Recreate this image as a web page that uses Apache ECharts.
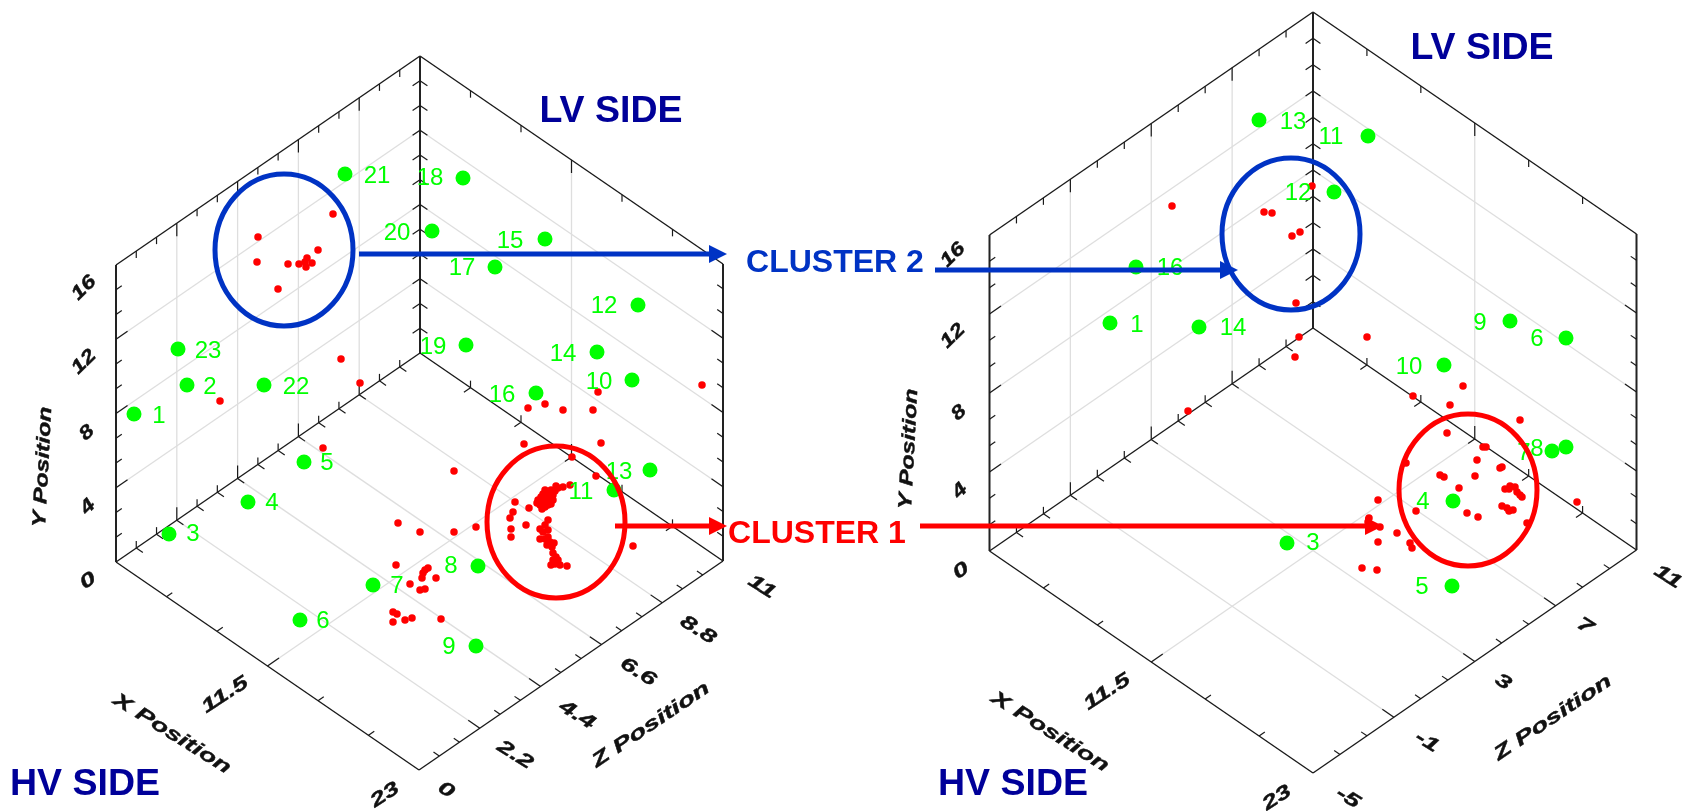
<!DOCTYPE html>
<html>
<head>
<meta charset="utf-8">
<style>
  html, body { margin: 0; background: #fff; }
  #chart { width: 1682px; height: 811px; }
</style>
<script src="https://cdn.jsdelivr.net/npm/echarts@6/dist/echarts.min.js"></script>
</head>
<body>
<div id="chart"></div>
<script>
// points, in picture units (the hidden axes run 0-1682 and 0-811)
const leftSensors = [[345,174],[178,349],[187,385],[264,385],[134,414],[463,178],[432,231],[545,239],[495,267],[638,305],[466,345],[597,352],[632,380],[536,393],[304,462],[248,502],[169,534],[373,585],[300,620],[478,566],[476,646],[650,470],[614,490]]
const leftSensorNames = [[377,176,'21'],[208,351,'23'],[210,387,'2'],[296,387,'22'],[159,416,'1'],[430,178,'18'],[397,233,'20'],[510,241,'15'],[462,268,'17'],[604,306,'12'],[433,347,'19'],[563,354,'14'],[599,382,'10'],[502,395,'16'],[327,463,'5'],[272,503,'4'],[193,534,'3'],[397,586,'7'],[323,621,'6'],[451,566,'8'],[449,647,'9'],[619,472,'13'],[581,492,'11']]
const leftDischarges = [
  [333,214],[258,237],[318,250],[257,262],[288,264],[299,264],[307,258],[305,262],[306,267],[312,263],[278,289],[341,359],[360,383],[220,401],
  [702,385],[598,392],[528,408],[545,404],[563,410],[593,410],[323,448],
  [524,444],[601,443],[454,471],[572,457],[596,476],[398,523],[420,532],[454,532],[476,527],
  [396,565],[410,584],[425,570],[423,573],[422,578],[428,568],[436,578],[420,590],[425,589],
  [393,612],[397,614],[393,622],[405,620],[412,618],[441,619],[633,546],
  // cluster 1, upper arc
  [570,485],[563,487],[558,488],[555,491],[556,486],[551,490],[553,495],[549,493],[547,497],[545,490],[543,494],[541,497],[538,500],[537,503],[540,505],[543,502],[546,501],[549,499],[545,507],[542,509],[548,505],[551,504],[553,500],[544,498],
  // cluster 1, left arc
  [515,502],[513,512],[510,518],[511,529],[511,537],[529,508],[526,525],
  // cluster 1, lower arc
  [548,520],[545,525],[540,529],[543,532],[548,530],[540,539],[545,539],[548,537],[550,542],[547,545],[552,547],[554,543],[553,553],[556,557],[553,560],[558,560],[551,565],[555,564],[560,565],[567,566]
]

const rightSensors = [[1259,120],[1368,136],[1334,192],[1136,267],[1110,323],[1199,327],[1510,321],[1566,338],[1444,365],[1566,447],[1552,451],[1453,501],[1287,543],[1452,586]]
const rightSensorNames = [[1293,122,'13'],[1331,137,'11'],[1298,193,'12'],[1170,268,'16'],[1137,325,'1'],[1233,328,'14'],[1480,323,'9'],[1537,339,'6'],[1409,367,'10'],[1524,453,'7'],[1537,449,'8'],[1423,502,'4'],[1313,543,'3'],[1422,587,'5']]
const rightDischarges = [
  [1172,206],[1312,186],[1264,212],[1272,213],[1292,236],[1300,232],[1296,303],[1299,337],[1295,357],[1188,411],
  [1367,337],[1463,386],[1413,396],[1450,405],[1520,420],[1447,433],[1486,447],[1483,447],[1477,460],[1500,468],[1502,467],[1475,476],[1440,475],[1444,477],[1459,488],
  [1505,489],[1510,486],[1509,489],[1515,487],[1517,492],[1520,495],[1522,497],[1502,506],[1507,508],[1509,511],[1513,510],[1467,513],[1478,517],[1527,523],[1577,502],
  [1406,463],[1378,500],[1369,518],[1368,522],[1380,527],[1378,542],[1397,533],[1416,511],[1410,543],[1412,548],[1362,568],[1377,570]
]

const blueCircles = [[284,250],[1291,234]]
const redCircles = [[556,522],[1468,490]]
const blueArrows = [[359,254,727],[935,270,1238]]
const redArrows = [[615,526,727],[920,526,1383]]

const sideLabels = [[611,112,'LV SIDE'],[1482,49,'LV SIDE'],[85,785,'HV SIDE'],[1013,785,'HV SIDE']]
const blueClusterLabels = [[835,263,'CLUSTER 2']]
const redClusterLabels = [[817,534,'CLUSTER 1']]

const xTickLabels = [[88,581,'0'],[225,695,'11.5'],[385,795,'23'],[961,571,'0'],[1107,692,'11.5'],[1277,798,'23']]
const yTickLabels = [[88,507,'4'],[87,433,'8'],[84,362,'12'],[84,288,'16'],[960,491,'4'],[959,413,'8'],[953,336,'12'],[953,255,'16']]
const zTickLabels = [[446,790,'0'],[515,755,'2.2'],[577,715,'4.4'],[638,672,'6.6'],[698,630,'8.8'],[762,587,'11'],[1348,798,'-5'],[1427,742,'-1'],[1503,682,'3'],[1585,626,'7'],[1668,577,'11']]
const xTitles = [[172,734,'X Position'],[1050,732,'X Position']]
const yTitles = [[43,467,'Y Position'],[909,449,'Y Position']]
const zTitles = [[651,725,'Z Position'],[1553,718,'Z Position']]

// the two boxes: left floor corner, floor edge vectors, height, Z divisions
const leftBox = { o: [116, 562], u: [303, 208], v: [304, -209], h: 297, zDiv: 15 }
const rightBox = { o: [989.5, 551], u: [323.5, 222], v: [323.5, -223], h: 316, zDiv: 12 }

function project(b, u, v, h) {
  return [b.o[0] + u * b.u[0] + v * b.v[0], b.o[1] + u * b.u[1] + v * b.v[1] - h * b.h]
}
function seg(a, b) {
  return [a[0], a[1], b[0], b[1]]
}
function unit(a) {
  const l = Math.hypot(a[0], a[1])
  return [a[0] / l, a[1] / l]
}

const frameLines = []
const axisLines = []
const gridLines = []
const tickLines = []

function addTicks(n, at, dirs) {
  for (let i = 1; i < n; i++) {
    const p = at(i / n)
    const major = i % 3 === 0
    dirs.forEach(d => {
      const len = major ? d[2] : d[3]
      tickLines.push(seg(p, [p[0] + d[0] * len, p[1] + d[1] * len]))
    })
  }
}

function buildBox(b) {
  const P = (u, v, h) => project(b, u, v, h)
  const du = unit(b.u)
  const dv = unit(b.v)
  const n = b.zDiv

  frameLines.push(seg(P(0,0,0), P(1,0,0)), seg(P(1,0,0), P(1,1,0)), seg(P(0,0,0), P(0,1,0)), seg(P(0,1,0), P(1,1,0)))
  frameLines.push(seg(P(0,0,1), P(0,1,1)), seg(P(0,1,1), P(1,1,1)))
  axisLines.push(seg(P(0,0,0), P(0,0,1)), seg(P(0,1,0), P(0,1,1)), seg(P(1,1,0), P(1,1,1)))

  gridLines.push(seg(P(.5,0,0), P(.5,1,0)), seg(P(.5,1,0), P(.5,1,1)))
  for (let i = 3; i < n; i += 3) {
    gridLines.push(seg(P(0,i/n,0), P(1,i/n,0)), seg(P(0,i/n,0), P(0,i/n,1)))
  }
  for (let i = 3; i < 12; i += 3) {
    gridLines.push(seg(P(0,0,i/12), P(0,1,i/12)), seg(P(0,1,i/12), P(1,1,i/12)))
  }

  addTicks(n, t => P(0,t,1), [[0,1,13,7]])
  addTicks(6, t => P(t,1,1), [[0,1,13,7]])
  addTicks(n, t => P(0,t,0), [[0,-1,13,7],[du[0],du[1],8,8]])
  addTicks(6, t => P(t,1,0), [[0,-1,13,7],[-dv[0],-dv[1],8,8]])
  addTicks(12, t => P(0,0,t), [[dv[0],dv[1],14,7]])
  addTicks(12, t => P(0,1,t), [[-dv[0],-dv[1],9,9],[du[0],du[1],9,9]])
  addTicks(12, t => P(1,1,t), [[-du[0],-du[1],14,7]])
  addTicks(6, t => P(t,0,0), [[dv[0],dv[1],14,7]])
  addTicks(n, t => P(1,t,0), [[-du[0],-du[1],14,7]])
}
buildBox(leftBox)
buildBox(rightBox)

function lineSeries(data, color, width, z) {
  return {
    type: 'custom', z, silent: true, clip: false, data,
    renderItem(params, api) {
      const a = api.coord([api.value(0), api.value(1)])
      const b = api.coord([api.value(2), api.value(3)])
      return { type: 'line', shape: { x1: a[0], y1: a[1], x2: b[0], y2: b[1] }, style: { stroke: color, lineWidth: width } }
    }
  }
}

function dots(data, color, size, z) {
  return { type: 'scatter', z, silent: true, data, symbol: 'circle', symbolSize: size, itemStyle: { color, opacity: 1 } }
}

function textSeries(rows, color, font, rotate, stretch, z, heavy) {
  return {
    type: 'custom', z, silent: true, clip: false,
    data: rows.map(r => [r[0], r[1]]),
    renderItem(params, api) {
      const p = api.coord([api.value(0), api.value(1)])
      const style = { text: rows[params.dataIndex][2], fill: color, font, align: 'center', verticalAlign: 'middle' }
      if (heavy) {
        style.stroke = color
        style.lineWidth = heavy
      }
      return {
        type: 'text', x: p[0], y: p[1],
        rotation: rotate * Math.PI / 180, scaleX: stretch, scaleY: 1,
        style
      }
    }
  }
}

function ringSeries(data, color, z) {
  return {
    type: 'custom', z, silent: true, clip: false, data,
    renderItem(params, api) {
      const c = api.coord([api.value(0), api.value(1)])
      return { type: 'ellipse', shape: { cx: c[0], cy: c[1], rx: 69, ry: 76 }, style: { fill: 'none', stroke: color, lineWidth: 5 } }
    }
  }
}

function arrowSeries(data, color, z) {
  return {
    type: 'custom', z, silent: true, clip: false, data,
    renderItem(params, api) {
      const a = api.coord([api.value(0), api.value(1)])
      const b = api.coord([api.value(2), api.value(1)])
      return {
        type: 'group',
        children: [
          { type: 'line', shape: { x1: a[0], y1: a[1], x2: b[0] - 16, y2: a[1] }, style: { stroke: color, lineWidth: 5 } },
          { type: 'polygon', shape: { points: [[b[0], a[1]], [b[0] - 18, a[1] - 9], [b[0] - 18, a[1] + 9]] }, style: { fill: color } }
        ]
      }
    }
  }
}

const GREEN = '#00ff00'
const RED = '#ff0000'
const BLUE = '#0033c4'
const NAVY = '#000099'
const INK = '#111111'
const axisFont = 'italic bold 19px "Liberation Sans"'
const nameFont = '24px "Liberation Sans"'
const sideFont = 'bold 37.5px "Liberation Sans"'
const clusterFont = 'bold 32px "Liberation Sans"'

const option = {
  animation: false,
  backgroundColor: '#fff',
  grid: { left: 0, right: 0, top: 0, bottom: 0 },
  xAxis: { type: 'value', min: 0, max: 1682, show: false },
  yAxis: { type: 'value', min: 0, max: 811, inverse: true, show: false },
  series: [
    lineSeries(gridLines, '#dedede', 1.3, 1),
    lineSeries(frameLines, '#1a1a1a', 1.4, 2),
    lineSeries(axisLines, '#222222', 2, 2),
    lineSeries(tickLines, '#1a1a1a', 1.2, 2),
    dots(leftDischarges, RED, 7.5, 3),
    dots(rightDischarges, RED, 7.5, 3),
    dots(leftSensors, GREEN, 15, 4),
    dots(rightSensors, GREEN, 15, 4),
    textSeries(leftSensorNames, GREEN, nameFont, 0, 1, 5),
    textSeries(rightSensorNames, GREEN, nameFont, 0, 1, 5),
    textSeries(xTickLabels, INK, axisFont, 33, 1.45, 5, 0.4),
    textSeries(yTickLabels, INK, axisFont, 45, 1.25, 5, 0.4),
    textSeries(zTickLabels, INK, axisFont, -32, 1.45, 5, 0.4),
    textSeries(xTitles, INK, axisFont, -32, 1.45, 5, 0.4),
    textSeries(yTitles, INK, axisFont, 87, 1.3, 5, 0.4),
    textSeries(zTitles, INK, axisFont, 34, 1.5, 5, 0.4),
    ringSeries(blueCircles, BLUE, 6),
    ringSeries(redCircles, RED, 6),
    arrowSeries(blueArrows, BLUE, 7),
    arrowSeries(redArrows, RED, 7),
    textSeries(sideLabels, NAVY, sideFont, 0, 1, 8),
    textSeries(blueClusterLabels, BLUE, clusterFont, 0, 1, 8),
    textSeries(redClusterLabels, RED, clusterFont, 0, 1, 8)
  ]
}

const chart = echarts.init(document.getElementById('chart'), null, { renderer: 'canvas' })
chart.setOption(option)
</script>
</body>
</html>
